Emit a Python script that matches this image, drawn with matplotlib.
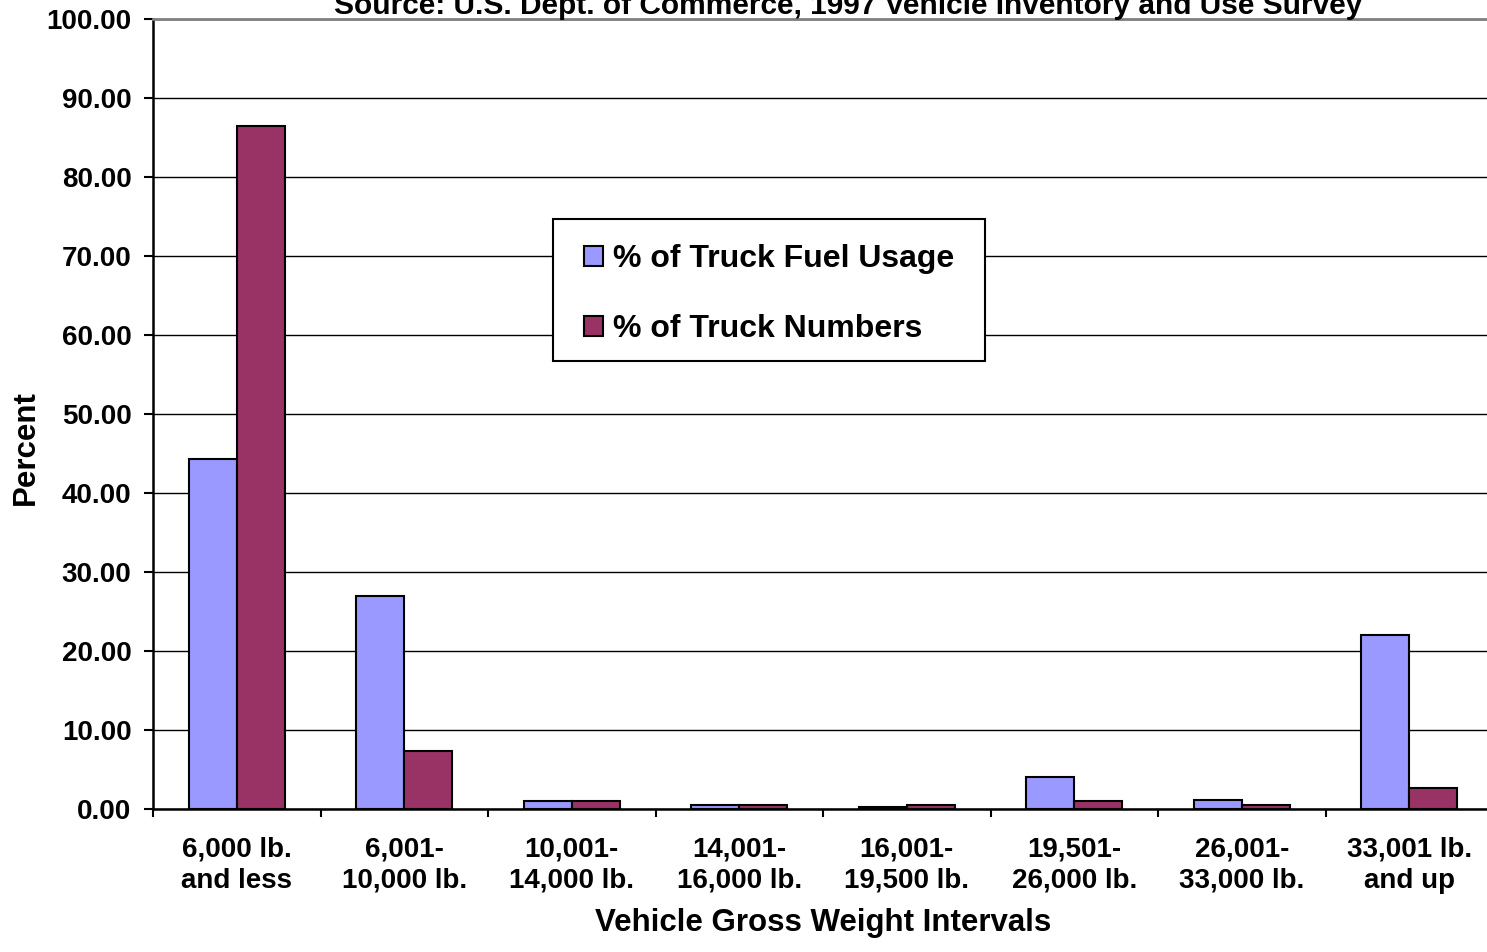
import matplotlib.pyplot as plt
from matplotlib.patches import Rectangle
import numpy as np

plt.rcParams['font.family'] = ['Liberation Sans', 'DejaVu Sans']
plt.rcParams['font.weight'] = 'bold'

categories = ["6,000 lb.\nand less", "6,001-\n10,000 lb.", "10,001-\n14,000 lb.",
              "14,001-\n16,000 lb.", "16,001-\n19,500 lb.", "19,501-\n26,000 lb.",
              "26,001-\n33,000 lb.", "33,001 lb.\nand up"]
fuel_usage = [44.3, 26.9, 1.0, 0.5, 0.2, 4.1, 1.2, 22.0]
truck_numbers = [86.4, 7.4, 1.0, 0.5, 0.5, 1.0, 0.5, 2.7]
series_names = ["% of Truck Fuel Usage", "% of Truck Numbers"]

fig = plt.figure(figsize=(14.87, 9.52), dpi=100)
ax = fig.add_axes([153 / 1487, 1 - 809 / 952, 1340 / 1487, 790 / 952])

x = np.arange(len(categories))
w = 1 / 3.5
ax.bar(x - w / 2, fuel_usage, w, color="#9999FF", edgecolor="black", linewidth=1.5,
       label=series_names[0], zorder=3)
ax.bar(x + w / 2, truck_numbers, w, color="#993366", edgecolor="black", linewidth=1.5,
       label=series_names[1], zorder=3)

ax.set_xlim(-0.5, len(categories) - 0.5)
ax.set_ylim(0, 100)
ax.set_yticks(np.arange(0, 101, 10))
ax.set_yticklabels([f"{v:.2f}" for v in np.arange(0, 101, 10)])
ax.yaxis.grid(True, color="black", linewidth=1.0, zorder=0)
ax.set_axisbelow(True)

ax.set_xticks(x)
ax.set_xticklabels(categories, linespacing=1.25)
ax.set_xticks(np.arange(-0.5, len(categories), 1), minor=True)
ax.tick_params(axis="x", which="major", length=0, pad=20, labelsize=20)
ax.tick_params(axis="x", which="minor", length=6, width=1.5, direction="out")
ax.tick_params(axis="y", length=6.5, width=1.5, direction="out", pad=9, labelsize=20)

for side in ["left", "bottom"]:
    ax.spines[side].set_linewidth(1.8)
    ax.spines[side].set_color("black")
ax.spines["top"].set_color("#808080")
ax.spines["top"].set_linewidth(2)
ax.spines["right"].set_visible(False)

ax.set_xlabel("Vehicle Gross Weight Intervals", fontsize=22.5, fontweight="bold")
ax.xaxis.set_label_coords(0.5, -0.125)
ax.set_ylabel("Percent", fontsize=22.5, fontweight="bold")
ax.yaxis.set_label_coords(-0.084, 0.457)

# legend frame drawn separately so its padding can differ horizontally
frame = Rectangle(((553 - 153) / 1340, (809 - 361) / 790), 432 / 1340, 142 / 790,
                  transform=ax.transAxes, facecolor="white", edgecolor="black",
                  linewidth=1.5, zorder=4)
ax.add_patch(frame)
leg = ax.legend(loc="upper left", bbox_to_anchor=((584 - 153) / 1340, (809 - 244) / 790),
                borderaxespad=0, borderpad=0, fontsize=23, handlelength=0.6,
                handleheight=0.6, handletextpad=0.3, labelspacing=1.25, frameon=False)
leg.set_zorder(5)

fig.text(848 / 1487, 1 - 14 / 952,
         "Source: U.S. Dept. of Commerce, 1997 Vehicle Inventory and Use Survey",
         ha="center", va="baseline", fontsize=21.5, fontweight="bold")

fig.savefig("out.png", dpi=100)
